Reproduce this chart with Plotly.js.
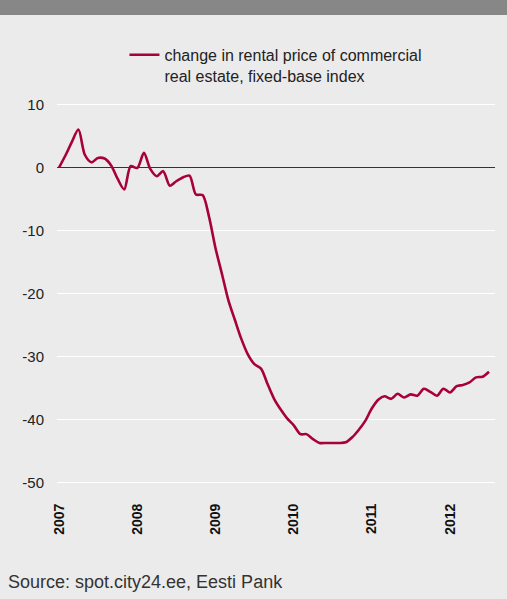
<!DOCTYPE html>
<html>
<head>
<meta charset="utf-8">
<script src="https://cdn.plot.ly/plotly-3.0.1.min.js"></script>
<style>
html,body{margin:0;padding:0;background:#ebebeb;}
#chart{width:507px;height:599px;}
</style>
</head>
<body>
<div id="chart"></div>
<script>
const months = [
 '2007-01-01','2007-02-01','2007-03-01','2007-04-01','2007-05-01','2007-06-01','2007-07-01','2007-08-01','2007-09-01','2007-10-01','2007-11-01','2007-12-01',
 '2008-01-01','2008-02-01','2008-03-01','2008-04-01','2008-05-01','2008-06-01','2008-07-01','2008-08-01','2008-09-01','2008-10-01','2008-11-01','2008-12-01',
 '2009-01-01','2009-02-01','2009-03-01','2009-04-01','2009-05-01','2009-06-01','2009-07-01','2009-08-01','2009-09-01','2009-10-01','2009-11-01','2009-12-01',
 '2010-01-01','2010-02-01','2010-03-01','2010-04-01','2010-05-01','2010-06-01','2010-07-01','2010-08-01','2010-09-01','2010-10-01','2010-11-01','2010-12-01',
 '2011-01-01','2011-02-01','2011-03-01','2011-04-01','2011-05-01','2011-06-01','2011-07-01','2011-08-01','2011-09-01','2011-10-01','2011-11-01','2011-12-01',
 '2012-01-01','2012-02-01','2012-03-01','2012-04-01','2012-05-01','2012-06-01','2012-07-01'
];
const rentalIndex = [
 0, 2, 4, 6, 2, 0.8, 1.5, 1.4, 0.3, -1.8, -3.5, 0.2,
 -0.1, 2.3, -0.2, -1.4, -0.6, -2.9, -2.2, -1.6, -1.3, -4.3, -4.4, -7.8,
 -12.9, -17.1, -21.0, -24.2, -27.2, -29.7, -31.2, -31.9, -34.4, -36.7, -38.4, -39.8,
 -40.9, -42.3, -42.3, -43.1, -43.7, -43.7, -43.7, -43.7, -43.6, -42.8, -41.6, -40.2,
 -38.2, -36.8, -36.3, -36.7, -35.9, -36.5, -36.0, -36.2, -35.1, -35.6, -36.2, -35.1,
 -35.7, -34.7, -34.5, -34.1, -33.3, -33.2, -32.4
];
const seriesName = 'change in rental price of commercial<br>real estate, fixed-base index';
const yTicks = [10, 0, -10, -20, -30, -40, -50];
const yTickLabels = ['10', '0', '-10', '-20', '-30', '-40', '-50'];
const xTicks = ['2007-01-01','2008-01-01','2009-01-01','2010-01-01','2011-01-01','2012-01-01'];
const xTickLabels = ['2007','2008','2009','2010','2011','2012'];
const sourceText = 'Source: spot.city24.ee, Eesti Pank';

const font = '"Liberation Sans", Arial, Helvetica, sans-serif';

const trace = {
  x: months, y: rentalIndex, type: 'scatter', mode: 'lines', name: seriesName,
  line: {color: '#a8003a', width: 2.6, shape: 'spline', smoothing: 0.8}
};

const layout = {
  width: 507, height: 599,
  margin: {l: 57, r: 12, t: 98, b: 110},
  paper_bgcolor: '#ebebeb', plot_bgcolor: '#ebebeb',
  font: {family: font, color: '#222', size: 14},
  showlegend: true,
  legend: {x: 0.154, xanchor: 'left', y: 1.154, yanchor: 'top', valign: 'top', bgcolor: 'rgba(0,0,0,0)',
           font: {family: font, size: 16, color: '#222'}},
  xaxis: {
    type: 'date', range: ['2006-12-22', '2012-07-29'],
    tickvals: xTicks, ticktext: xTickLabels, tickangle: -90,
    tickfont: {family: font, size: 14, color: '#111', weight: 'bold'},
    showgrid: false, zeroline: false, showline: false,
    ticks: 'outside', ticklen: 8, tickcolor: 'rgba(0,0,0,0)'
  },
  yaxis: {
    range: [-51, 11], tickvals: yTicks, ticktext: yTickLabels,
    tickfont: {family: font, size: 15, color: '#222'},
    showgrid: true, gridcolor: '#ffffff', gridwidth: 1.6,
    zeroline: true, zerolinecolor: '#333333', zerolinewidth: 1.6,
    showline: false, ticks: 'outside', ticklen: 9, tickcolor: 'rgba(0,0,0,0)'
  },
  shapes: [{type: 'rect', xref: 'paper', yref: 'paper', x0: -0.2, x1: 1.1,
            y0: 1 + 83/391, y1: 1 + 110/391, fillcolor: '#878787', line: {width: 0}, layer: 'below'}],
  annotations: [{text: sourceText, xref: 'paper', yref: 'paper', x: -57/438 + 6/438, xanchor: 'left',
                 y: -(582 - 489) / 391, yanchor: 'middle', showarrow: false,
                 font: {family: font, size: 18, color: '#333'}}]
};

Plotly.newPlot('chart', [trace], layout, {displayModeBar: false, staticPlot: true});
</script>
</body>
</html>
